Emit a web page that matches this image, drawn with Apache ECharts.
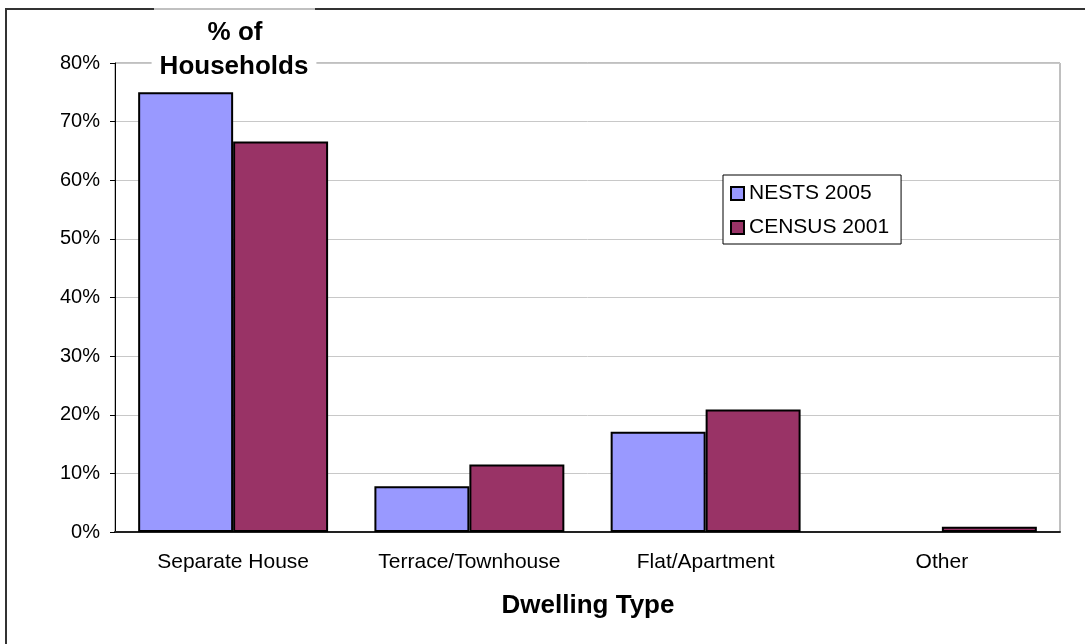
<!DOCTYPE html>
<html>
<head>
    <meta charset="utf-8">
    <title>Dwelling Type</title>
    <script src="https://cdn.jsdelivr.net/npm/echarts@6/dist/echarts.min.js"></script>
</head>
<body style="margin:0;background:#fff;">
<style type="text/css">
#chart{width: 1085px; height: 644px;}
</style>
    <div id="chart"></div>
    <script type="text/javascript">
        // data
        var categories = ['Separate House', 'Terrace/Townhouse', 'Flat/Apartment', 'Other'];
        var seriesNames = ['NESTS 2005', 'CENSUS 2001'];
        var nests = [75, 7.8, 17.1, null];
        var census = [66.6, 11.5, 20.9, 0.9];
        var yTicks = [0, 10, 20, 30, 40, 50, 60, 70, 80];

        var font = 'Arial, "Liberation Sans", sans-serif';
        var chart = echarts.init(document.getElementById('chart'));

        chart.setOption({
            animation: false,
            textStyle: { fontFamily: font, color: '#000' },
            grid: {
                left: 115, right: 25, top: 63, bottom: 112,
                show: true, borderColor: '#808080', borderWidth: 1,
                containLabel: false
            },
            legend: {
                orient: 'vertical',
                left: 723, top: 175,
                padding: [8, 12, 6, 7],
                itemGap: 13,
                itemWidth: 13, itemHeight: 13,
                icon: 'rect',
                backgroundColor: '#fff',
                borderColor: '#000', borderWidth: 1,
                textStyle: { fontSize: 21, color: '#000', fontFamily: font, lineHeight: 20 },
                data: seriesNames
            },
            xAxis: {
                type: 'category',
                data: categories,
                axisLine: { lineStyle: { color: '#222', width: 2 } },
                axisTick: { show: false },
                axisLabel: { fontSize: 21, color: '#000', margin: 20, interval: 0 }
            },
            yAxis: {
                type: 'value',
                min: yTicks[0], max: yTicks[yTicks.length - 1], interval: 10,
                axisLine: { show: true, lineStyle: { color: '#000', width: 1 } },
                axisTick: { show: true, length: 5, lineStyle: { color: '#000' } },
                axisLabel: { fontSize: 20, color: '#000', margin: 15, formatter: '{value}%' },
                splitLine: { lineStyle: { color: '#c8c8c8', width: 1 } }
            },
            series: [{
                name: seriesNames[0],
                type: 'bar',
                data: nests,
                barGap: 0,
                barCategoryGap: '19.6%',
                itemStyle: { color: '#9999ff', borderColor: '#000', borderWidth: 2 }
            }, {
                name: seriesNames[1],
                type: 'bar',
                data: census,
                barGap: 0,
                barCategoryGap: '19.6%',
                itemStyle: { color: '#993366', borderColor: '#000', borderWidth: 2 }
            }],
            graphic: [
                // outer chart border
                { type: 'rect', z: 100, silent: true,
                  shape: { x: 6, y: 9, width: 1100, height: 700 },
                  style: { fill: 'none', stroke: '#333', lineWidth: 2 } },
                { type: 'line', z: 101, silent: true,
                  shape: { x1: 154, y1: 9, x2: 315, y2: 9 },
                  style: { stroke: '#c0c0c0', lineWidth: 2 } },
                // y axis title
                { type: 'text', z: 100, silent: true,
                  x: 235, y: 33,
                  style: { text: '% of', font: 'bold 26px ' + font, fill: '#000',
                           align: 'center', verticalAlign: 'middle' } },
                { type: 'text', z: 100, silent: true,
                  x: 234, y: 67,
                  style: { text: 'Households', font: 'bold 26px ' + font, fill: '#000',
                           align: 'center', verticalAlign: 'middle',
                           backgroundColor: '#fff', padding: [2, 8, 2, 8] } },
                // x axis title
                { type: 'text', z: 100, silent: true,
                  x: 588, y: 606,
                  style: { text: 'Dwelling Type', font: 'bold 26px ' + font, fill: '#000',
                           align: 'center', verticalAlign: 'middle' } }
            ]
        });
    </script>
</body>
</html>
